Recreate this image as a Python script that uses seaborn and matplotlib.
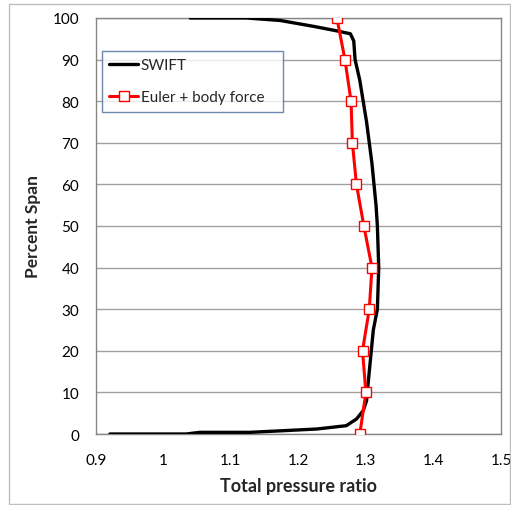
import matplotlib
matplotlib.use("Agg")
import matplotlib.pyplot as plt
import seaborn as sns
import pandas as pd
from matplotlib.patches import Rectangle

swift_x = [0.921, 1.034, 1.054, 1.128, 1.178, 1.227, 1.271, 1.286, 1.296, 1.301,
           1.302, 1.305, 1.308, 1.311, 1.317, 1.318, 1.319, 1.318, 1.317, 1.315,
           1.312, 1.309, 1.305, 1.301, 1.296, 1.291, 1.284, 1.282, 1.277, 1.257,
           1.222, 1.173, 1.123, 1.040]
swift_y = [0, 0, 0.4, 0.4, 0.8, 1.2, 2.0, 3.6, 5.6, 8,
           10, 15, 20, 25, 30, 35, 40, 45, 50, 55,
           60, 65, 70, 75, 80, 85, 90, 94.5, 96.2, 96.9,
           98.0, 99.4, 100, 100]
euler_y = [0, 10, 20, 30, 40, 50, 60, 70, 80, 90, 100]
euler_x = [1.291, 1.300, 1.295, 1.305, 1.309, 1.297, 1.286, 1.280, 1.278, 1.269, 1.257]
x_ticks = [0.9, 1, 1.1, 1.2, 1.3, 1.4, 1.5]
x_tick_labels = ["0.9", "1", "1.1", "1.2", "1.3", "1.4", "1.5"]
y_ticks = [0, 10, 20, 30, 40, 50, 60, 70, 80, 90, 100]

sns.set_theme(style="white")
plt.rcParams['font.family'] = ['Lato', 'DejaVu Sans']

fig = plt.figure(figsize=(5.11, 5.06), dpi=100)
ax = fig.add_axes([0.1873, 0.1403, 0.9804 - 0.1873, 0.9625 - 0.1403])

df_s = pd.DataFrame({"x": swift_x, "y": swift_y})
df_e = pd.DataFrame({"x": euler_x, "y": euler_y})
sns.lineplot(data=df_s, x="x", y="y", sort=False, estimator=None, ax=ax,
             color="black", linewidth=2.4, label="SWIFT", zorder=3)
sns.lineplot(data=df_e, x="x", y="y", sort=False, estimator=None, ax=ax,
             color="#FF0000", linewidth=2.2, marker="s", markersize=7,
             markerfacecolor="white", markeredgecolor="#FF0000", markeredgewidth=1.0,
             label="Euler + body force", zorder=4)

ax.set_xlim(0.9, 1.5)
ax.set_ylim(0, 100)
ax.set_xticks(x_ticks)
ax.set_xticklabels(x_tick_labels)
ax.set_yticks(y_ticks)
ax.yaxis.grid(True, color="#A0A0A0", linewidth=1.0)
ax.xaxis.grid(False)
ax.set_axisbelow(True)
for s in ax.spines.values():
    s.set_color("#868686")
    s.set_linewidth(1.0)
ax.tick_params(axis="both", direction="out", length=4, width=1, color="#868686",
               labelsize=11, labelcolor="black")
ax.tick_params(axis="x", pad=10)
ax.tick_params(axis="y", pad=8)
ax.set_xlabel("Total pressure ratio", fontsize=13, fontweight="bold", labelpad=7)
ax.set_ylabel("Percent Span", fontsize=12.5, fontweight="bold", labelpad=8)

leg = ax.legend(loc="upper left", bbox_to_anchor=(0.0148, 0.771, 0.4466, 0.15),
                mode="expand", frameon=True,
                fancybox=False, fontsize=11, handlelength=1.9, borderpad=0.5,
                labelspacing=1.15, handletextpad=0.15, borderaxespad=0)
leg.get_frame().set_edgecolor("#4A6C9B")
leg.get_frame().set_linewidth(1.0)

fig.patches.append(Rectangle((9 / 511, 1 / 506), 1 - 9 / 511 - 1 / 511, 1 - 5 / 506 - 1 / 506,
                             transform=fig.transFigure, fill=False,
                             edgecolor="#BFBFBF", linewidth=1.0, zorder=0))

fig.savefig("out.png", dpi=100)
